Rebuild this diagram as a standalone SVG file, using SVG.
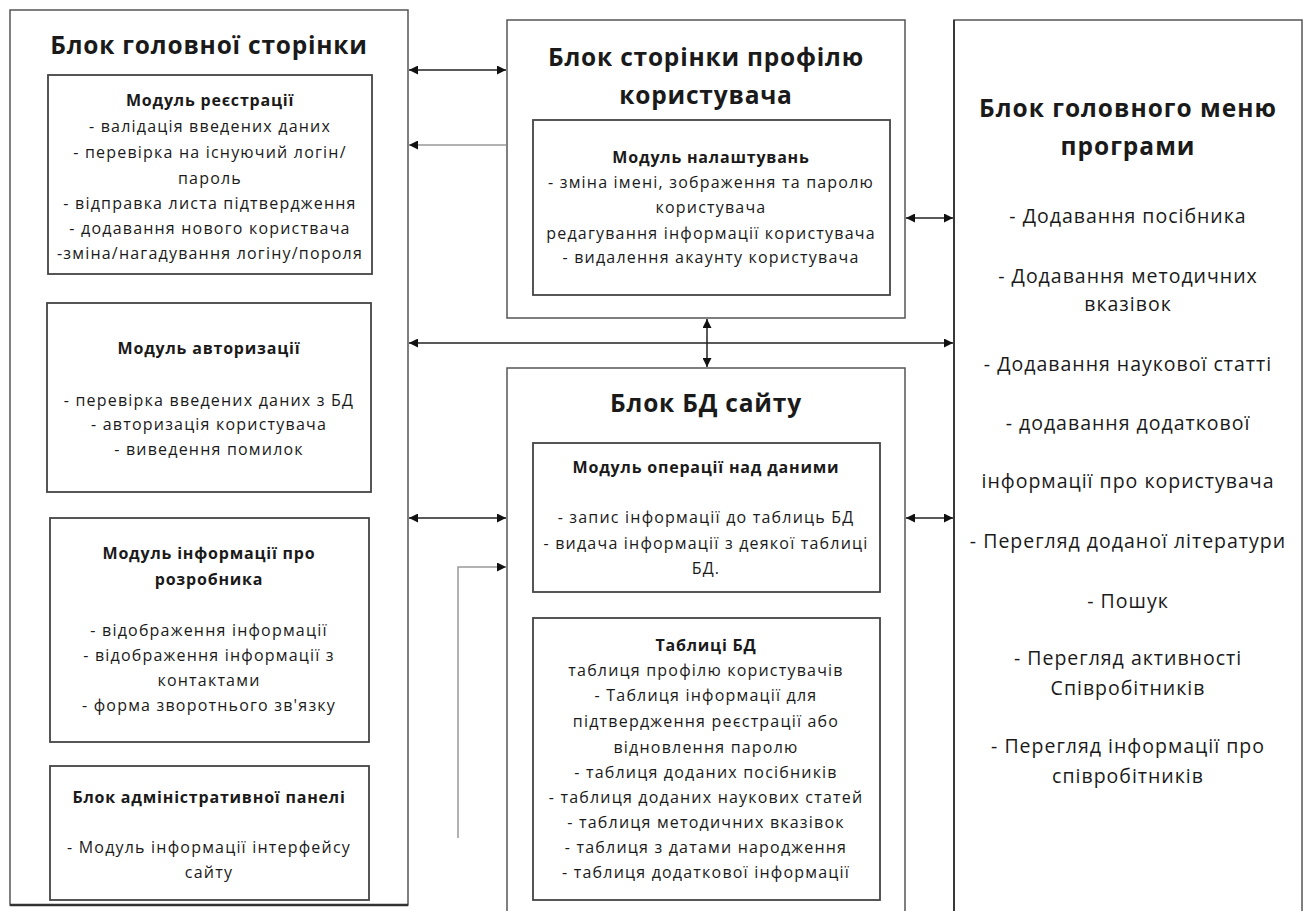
<svg xmlns="http://www.w3.org/2000/svg" width="1306" height="911" viewBox="0 0 1306 911">
<defs>
<marker id="ah" viewBox="0 0 10 10" refX="10" refY="5" markerWidth="10" markerHeight="9" markerUnits="userSpaceOnUse" orient="auto-start-reverse">
<path d="M0,0 L10,5 L0,10 z" fill="#111"/>
</marker>
<style>
.blk{fill:#fff;stroke:#555;stroke-width:1.5}
.mod{fill:#fff;stroke:#444;stroke-width:1.8}
text{font-family:"Open Sans","Noto Sans","Liberation Sans",sans-serif;fill:#1a1a1a;text-anchor:middle;dominant-baseline:central}
.bt{font-size:24.5px;font-weight:bold;letter-spacing:0.8px}
.mt{font-size:16px;font-weight:bold;letter-spacing:0.8px}
.t{font-size:16px;letter-spacing:1.2px}
.rt{font-size:19.5px;letter-spacing:1px}
.rbt{font-size:24.5px;font-weight:bold;letter-spacing:1px}
.c{fill:none;stroke:#222;stroke-width:1.5}
.cg{fill:none;stroke:#999;stroke-width:1.5}
</style>
</defs>
<rect width="1306" height="911" fill="#fff"/>

<g id="main-page">
<rect class="blk" x="10" y="10" width="398" height="895"/>
<line x1="10" y1="905" x2="408" y2="905" stroke="#333" stroke-width="2.5"/>
<text class="bt" x="209" y="44">Блок головної сторінки</text>
</g>

<g id="registration">
<rect class="mod" x="48" y="75" width="324" height="199"/>
<text class="mt" x="210" y="100">Модуль реєстрації</text>
<text class="t" x="210" y="126">- валідація введених даних</text>
<text class="t" x="210" y="152">- перевірка на існуючий логін/</text>
<text class="t" x="210" y="178">пароль</text>
<text class="t" x="210" y="203">- відправка листа підтвердження</text>
<text class="t" x="210" y="228">- додавання нового користвача</text>
<text class="t" x="210" y="253">-зміна/нагадування логіну/пороля</text>
</g>

<g id="authorization">
<rect class="mod" x="47" y="303" width="324" height="189"/>
<text class="mt" x="209" y="348">Модуль авторизації</text>
<text class="t" x="209" y="400">- перевірка введених даних з БД</text>
<text class="t" x="209" y="424">- авторизація користувача</text>
<text class="t" x="209" y="449">- виведення помилок</text>
</g>

<g id="developer-info">
<rect class="mod" x="50" y="518" width="319" height="224"/>
<text class="mt" x="209" y="553">Модуль інформації про</text>
<text class="mt" x="209" y="579">розробника</text>
<text class="t" x="209" y="630">- відображення інформації</text>
<text class="t" x="209" y="655">- відображення інформації з</text>
<text class="t" x="209" y="680">контактами</text>
<text class="t" x="209" y="705">- форма зворотнього зв'язку</text>
</g>

<g id="admin-panel">
<rect class="mod" x="50" y="766" width="319" height="134"/>
<text class="mt" x="209" y="797">Блок адміністративної панелі</text>
<text class="t" x="209" y="847">- Модуль інформації інтерфейсу</text>
<text class="t" x="209" y="872">сайту</text>
</g>

<g id="profile">
<rect class="blk" x="507" y="20" width="398" height="298"/>
<text class="bt" x="706" y="56">Блок сторінки профілю</text>
<text class="bt" x="706" y="94">користувача</text>
</g>

<g id="settings">
<rect class="mod" x="533" y="120" width="357" height="175"/>
<text class="mt" x="711" y="157">Модуль налаштувань</text>
<text class="t" x="711" y="182">- зміна імені, зображення та паролю</text>
<text class="t" x="711" y="207">користувача</text>
<text class="t" x="711" y="233">редагування інформації користувача</text>
<text class="t" x="711" y="257">- видалення акаунту користувача</text>
</g>

<g id="db-block">
<path class="blk" d="M507,911 V368 H905 V911"/>
<text class="bt" x="706" y="402">Блок БД сайту</text>
</g>

<g id="data-ops">
<rect class="mod" x="533" y="443" width="347" height="149"/>
<text class="mt" x="706" y="467">Модуль операції над даними</text>
<text class="t" x="706" y="517">- запис інформації до таблиць БД</text>
<text class="t" x="706" y="543">- видача інформації з деякої таблиці</text>
<text class="t" x="706" y="568">БД.</text>
</g>

<g id="db-tables">
<rect class="mod" x="533" y="618" width="347" height="282"/>
<text class="mt" x="706" y="645">Таблиці БД</text>
<text class="t" x="706" y="670">таблиця профілю користувачів</text>
<text class="t" x="706" y="695">- Таблиця інформації для</text>
<text class="t" x="706" y="721">підтвердження реєстрації або</text>
<text class="t" x="706" y="747">відновлення паролю</text>
<text class="t" x="706" y="772">- таблиця доданих посібників</text>
<text class="t" x="706" y="797">- таблиця доданих наукових  статей</text>
<text class="t" x="706" y="822">- таблиця методичних вказівок</text>
<text class="t" x="706" y="847">- таблиця з датами народження</text>
<text class="t" x="706" y="872">- таблиця додаткової інформації</text>
</g>

<g id="main-menu">
<path class="blk" d="M954,911 V20 H1302 V911"/>
<line x1="954" y1="20" x2="954" y2="911" stroke="#222" stroke-width="1.5"/>
<text class="rbt" x="1128" y="107">Блок головного меню</text>
<text class="rbt" x="1128" y="145">програми</text>
<text class="rt" x="1128" y="215">- Додавання посібника</text>
<text class="rt" x="1128" y="275">- Додавання методичних</text>
<text class="rt" x="1128" y="303">вказівок</text>
<text class="rt" x="1128" y="363">- Додавання наукової статті</text>
<text class="rt" x="1128" y="422">- додавання додаткової</text>
<text class="rt" x="1128" y="480">інформації про користувача</text>
<text class="rt" x="1128" y="540">- Перегляд доданої літератури</text>
<text class="rt" x="1128" y="600">- Пошук</text>
<text class="rt" x="1128" y="657">- Перегляд активності</text>
<text class="rt" x="1128" y="687">Співробітників</text>
<text class="rt" x="1128" y="745">- Перегляд інформації про</text>
<text class="rt" x="1128" y="775">співробітників</text>
</g>

<g id="connectors">
<line class="c" x1="409" y1="70" x2="506" y2="70" marker-start="url(#ah)" marker-end="url(#ah)"/>
<line class="cg" x1="506" y1="145" x2="409" y2="145" marker-end="url(#ah)"/>
<line class="c" x1="906" y1="218" x2="953" y2="218" marker-start="url(#ah)" marker-end="url(#ah)"/>
<line class="c" x1="409" y1="343" x2="953" y2="343" marker-start="url(#ah)" marker-end="url(#ah)"/>
<line class="c" x1="707" y1="319" x2="707" y2="367" marker-start="url(#ah)" marker-end="url(#ah)"/>
<line class="c" x1="409" y1="518" x2="506" y2="518" marker-start="url(#ah)" marker-end="url(#ah)"/>
<line class="c" x1="906" y1="518" x2="953" y2="518" marker-start="url(#ah)" marker-end="url(#ah)"/>
<polyline class="cg" points="458,838 458,567 506,567" marker-end="url(#ah)"/>
</g>
</svg>
